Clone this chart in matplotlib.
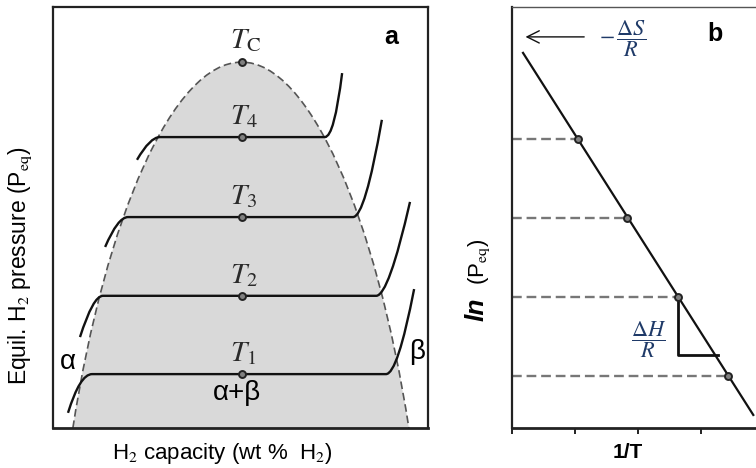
import matplotlib
matplotlib.use("Agg")
import matplotlib.pyplot as plt
from matplotlib.path import Path
from matplotlib.patches import PathPatch

plt.rcParams['font.family'] = ['Liberation Sans', 'DejaVu Sans']
plt.rcParams['mathtext.fontset'] = 'stix'
plt.rcParams['lines.scale_dashes'] = False

# ---------- panel a : two-phase dome (capacity vs pressure, arbitrary units) ----------
# bezier control points: left foot -> apex -> right foot
dome_x = [5.3, 14.0, 32.0, 50.3, 68.4, 86.2, 94.9]
dome_y = [0.0, 50.0, 87.0, 86.9, 87.0, 50.0, 0.0]

# isotherms T1..T4
iso_labels = ['1', '2', '3', '4']
iso_level = [12.8, 31.4, 50.1, 69.1]
iso_start = [(4.0, 3.6), (7.2, 21.6), (13.9, 43.0), (22.4, 63.7)]
iso_lbend = [7.2, 10.7, 17.3, 25.9]
iso_x0 = [10.4, 13.3, 20.0, 28.5]
iso_x1 = [88.8, 86.2, 80.0, 72.5]
iso_rbend = [91.9, 89.5, 83.2, 75.0]
iso_end = [(96.3, 33.0), (95.2, 53.7), (87.7, 73.2), (77.1, 84.3)]

crit_x = 50.3
crit_y = 86.9

# ---------- panel b : van 't Hoff plot ----------
inv_T = [1.05, 1.83, 2.63, 3.43]
ln_P = [68.6, 49.9, 31.1, 12.4]
fit_x = [0.175, 3.83]
fit_y = [89.1, 3.1]
tri_x = [2.63, 2.63, 3.27]
tri_y = [31.1, 17.3, 17.3]
b_ticks = [0, 1, 2, 3]

W, H = 756, 468
fig = plt.figure(figsize=(W / 100, H / 100), dpi=100)

#=========== panel a ===========
ax = fig.add_axes([53 / W, 40 / H, 375 / W, 421 / H])
ax.set_xlim(0, 100)
ax.set_ylim(0, 100)
ax.set_xticks([])
ax.set_yticks([])
for s in ax.spines.values():
    s.set_linewidth(1.6)
    s.set_color('#222222')
ax.spines['bottom'].set_linewidth(2.0)

dome_pts = list(zip(dome_x, dome_y))
dome_codes = [Path.MOVETO] + [Path.CURVE4] * 6
ax.add_patch(PathPatch(Path(dome_pts + [dome_pts[0]], dome_codes + [Path.CLOSEPOLY]),
                       facecolor='#d9d9d9', edgecolor='none', zorder=1))
ax.add_patch(PathPatch(Path(dome_pts, dome_codes), fill=False, edgecolor='#555555',
                       lw=1.2, linestyle=(0, (5.5, 2.8)), zorder=2))

for i in range(len(iso_level)):
    lv = iso_level[i]
    verts = [iso_start[i], (iso_lbend[i], lv), (iso_x0[i], lv),
             (iso_x1[i], lv), (iso_rbend[i], lv), iso_end[i]]
    codes = [Path.MOVETO, Path.CURVE3, Path.CURVE3,
             Path.LINETO, Path.CURVE3, Path.CURVE3]
    ax.add_patch(PathPatch(Path(verts, codes), fill=False, lw=1.7,
                           edgecolor='#111111', zorder=3))
    ax.text(crit_x - 3.0, lv + 3.0, r'$T_{\mathrm{%s}}$' % iso_labels[i],
            fontsize=21, ha='left', va='baseline', color='#2a2a2a', zorder=5)

ax.plot([crit_x] * 5, iso_level + [crit_y], 'o', ms=5, mfc='#808080',
        mec='#222222', mew=1.4, zorder=4)
ax.text(crit_x - 3.0, crit_y + 3.4, r'$T_{\mathrm{C}}$', fontsize=21,
        ha='left', va='baseline', color='#2a2a2a', zorder=5)

ax.text(4.0, 15.7, 'α', fontsize=20, ha='center', va='center')
ax.text(49.1, 8.3, 'α+β', fontsize=20, ha='center', va='center')
ax.text(97.1, 18.1, 'β', fontsize=20, ha='center', va='center')
ax.text(90.1, 92.9, 'a', fontsize=18, fontweight='bold', ha='center', va='center')

fig.text(222 / W, 1 - 453 / H, 'H$_2$ capacity (wt %  H$_2$)', fontsize=16,
         ha='center', va='center')
fig.text(20 / W, 1 - 266 / H, 'Equil. H$_2$ pressure (P$_{\\mathrm{eq}}$)',
         fontsize=16.5, rotation=90, ha='center', va='center')

#=========== panel b ===========
bx = fig.add_axes([512 / W, 40 / H, 264.6 / W, 421 / H])
bx.set_xlim(0, 4.2)
bx.set_ylim(0, 100)
bx.set_xticks(b_ticks)
bx.set_xticklabels([])
bx.set_yticks([])
bx.tick_params(axis='x', direction='out', length=4, width=1.4, color='#222222')
for s in bx.spines.values():
    s.set_color('#222222')
bx.spines['left'].set_linewidth(1.6)
bx.spines['top'].set_linewidth(1.0)
bx.spines['top'].set_color('#555555')
bx.spines['bottom'].set_linewidth(2.0)

for x, y in zip(inv_T, ln_P):
    bx.plot([0, x], [y, y], color='#777777', lw=1.7, dashes=(7, 3.5), zorder=2)
bx.plot(fit_x, fit_y, color='#111111', lw=1.6, zorder=3)
bx.plot(inv_T, ln_P, 'o', ms=5, mfc='#808080', mec='#222222', mew=1.4, zorder=4)
bx.plot(tri_x, tri_y, color='#111111', lw=2.0, zorder=3)

bx.annotate('', xy=(0.17, 92.9), xytext=(1.19, 92.9),
            arrowprops=dict(arrowstyle='->', lw=1.0, color='#111111',
                            mutation_scale=22))
bx.text(1.76, 92.4, r'$-\,\dfrac{\Delta S}{R}$', fontsize=16, color='#1f3a68',
        ha='center', va='center')
bx.text(2.17, 21.1, r'$\dfrac{\Delta H}{R}$', fontsize=16, color='#1f3a68',
        ha='center', va='center')
bx.text(3.22, 93.6, 'b', fontsize=18, fontweight='bold', ha='center', va='center')

fig.text(628 / W, 1 - 452 / H, '1/T', fontsize=15, fontweight='bold',
         ha='center', va='center')
fig.text(477 / W, 1 - 309 / H, 'ln', fontsize=19, fontweight='bold',
         fontstyle='italic', rotation=90, ha='center', va='center')
fig.text(479 / W, 1 - 262 / H, '(P$_{\\mathrm{eq}}$)', fontsize=16,
         rotation=90, ha='center', va='center')

fig.savefig('out.png', dpi=100)
